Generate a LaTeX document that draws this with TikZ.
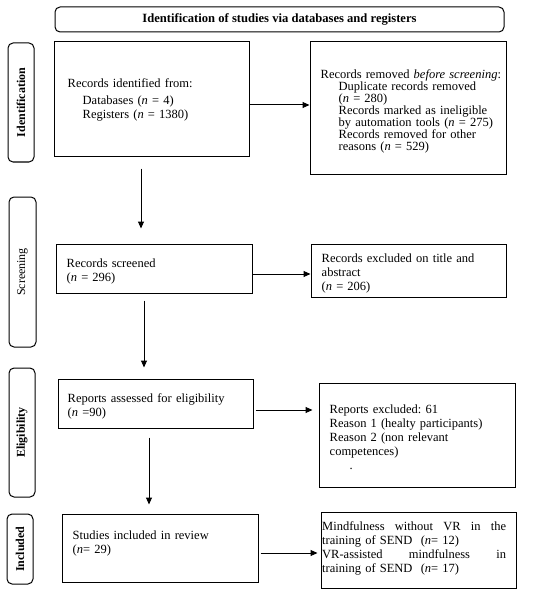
\documentclass[tikz,border=0pt]{standalone}
\usepackage{fontspec}
\setmainfont{Liberation Serif}
\usetikzlibrary{arrows.meta}
\tikzset{
  box/.style={draw, line width=1pt, inner sep=0pt},
  lab/.style={draw, line width=1pt, rounded corners=5pt, inner sep=0pt},
  labtxt/.style={rotate=90, font=\fontsize{12}{14}\selectfont\bfseries, inner sep=0pt},
  txt/.style={anchor=west, align=left, inner sep=0pt, text width=190pt, font=\fontsize{12.5}{14}\selectfont},
  arr/.style={line width=1pt, -{Triangle[length=7pt,width=6pt]}}
}
\begin{document}
\begin{tikzpicture}[x=1pt,y=-1pt]
\path[use as bounding box] (0,0) rectangle (550,596);
% title
\node[lab, minimum width=449pt, minimum height=25pt, font=\fontsize{12.6}{14}\selectfont\bfseries] (title) at (279.5,19.5) {Identification of studies via databases and registers};
% side labels
\node[lab, minimum width=26pt, minimum height=119pt] (l1) at (21,102.5) {};
\node[labtxt] (l1t) at (l1.center) {Identification};
\node[lab, minimum width=27pt, minimum height=150pt] (l2) at (22.5,272) {};
\node[labtxt, font=\fontsize{12}{14}\selectfont] (l2t) at (l2.center) {Screening};
\node[lab, minimum width=26pt, minimum height=129pt] (l3) at (22,432.5) {};
\node[labtxt] (l3t) at (l3.center) {Eligibility};
\node[lab, minimum width=26pt, minimum height=70pt] (l4) at (20,549) {};
\node[labtxt] (l4t) at (l4.center) {Included};
% boxes
\node[box, minimum width=195pt, minimum height=115pt] (b1) at (151.5,99.5) {};
\node[box, minimum width=196pt, minimum height=132pt] (b2) at (408,108) {};
\node[box, minimum width=196pt, minimum height=49pt] (b3) at (154,268.5) {};
\node[box, minimum width=195pt, minimum height=53pt] (b4) at (408.5,270.5) {};
\node[box, minimum width=195pt, minimum height=49pt] (b5) at (155.5,403.5) {};
\node[box, minimum width=196pt, minimum height=104pt] (b6) at (417,435) {};
\node[box, minimum width=196pt, minimum height=68pt] (b7) at (160,548) {};
\node[box, minimum width=195pt, minimum height=76pt] (b8) at (418.5,550) {};
% texts
\node[txt] (b1t) at ([xshift=14pt]b1.west) {Records identified from:\\[3pt]
\hspace*{15pt}Databases (\textit{n} = 4)\\
\hspace*{15pt}Registers (\textit{n} = 1380)};
\node[txt, font=\fontsize{12.5}{12}\selectfont] (b2t) at ([xshift=11pt,yshift=-3pt]b2.west) {Records removed \textit{before screening}:\\
\hspace*{18pt}Duplicate records removed\\
\hspace*{18pt}(\textit{n} = 280)\\
\hspace*{18pt}Records marked as ineligible\\
\hspace*{18pt}by automation tools (\textit{n} = 275)\\
\hspace*{18pt}Records removed for other\\
\hspace*{18pt}reasons (\textit{n} = 529)};
\node[txt] (b3t) at ([xshift=11pt,yshift=-3pt]b3.west) {Records screened\\(\textit{n} = 296)};
\node[txt] (b4t) at ([xshift=11pt,yshift=-3pt]b4.west) {Records excluded on title and\\abstract\\(\textit{n} = 206)};
\node[txt] (b5t) at ([xshift=10pt,yshift=-3pt]b5.west) {Reports assessed for eligibility\\(\textit{n} =90)};
\node[txt] (b6t) at ([xshift=11pt,yshift=-2pt]b6.west) {Reports excluded:\ 61\\
Reason 1 (healty participants)\\
Reason 2 (non relevant\\
competences)\\
\hspace*{20pt}.};
\node[txt] (b7t) at ([xshift=11pt,yshift=5pt]b7.west) {Studies included in review\\(\textit{n}= 29)};
\node[txt, text width=184pt] (b8t) at ([xshift=1.5pt,yshift=2pt]b8.west) {\makebox[184pt][l]{Mindfulness\hfill without\hfill VR\hfill in\hfill the}\\
training of SEND\ \ (\textit{n}= 12)\\
\makebox[184pt][l]{VR-assisted\hfill mindfulness\hfill in}\\
training of SEND\ \ (\textit{n}= 17)};
% horizontal arrows
\draw[arr] ([yshift=-5.5pt]b1.east) -- ([yshift=-5.5pt]b1.east -| b2.west);
\draw[arr] ([yshift=-5.5pt]b3.east) -- ([yshift=-5.5pt]b3.east -| b4.west);
\draw[arr] ([xshift=2pt,yshift=-6.5pt]b5.east) -- ([xshift=-6pt,yshift=-6.5pt]b5.east -| b6.west);
\draw[arr] ([xshift=2pt,yshift=-5pt]b7.east) -- ([xshift=-3pt,yshift=-5pt]b7.east -| b8.west);
% vertical arrows
\draw[arr] ([xshift=-10.5pt,yshift=-11pt]b1.south) -- ([xshift=-13pt,yshift=15pt]b3.north);
\draw[arr] ([xshift=-10pt,yshift=-7pt]b3.south) -- ([xshift=-11.5pt,yshift=11pt]b5.north);
\draw[arr] ([xshift=-6.5pt,yshift=-9pt]b5.south) -- ([xshift=-11pt,yshift=9pt]b7.north);
\end{tikzpicture}
\end{document}
